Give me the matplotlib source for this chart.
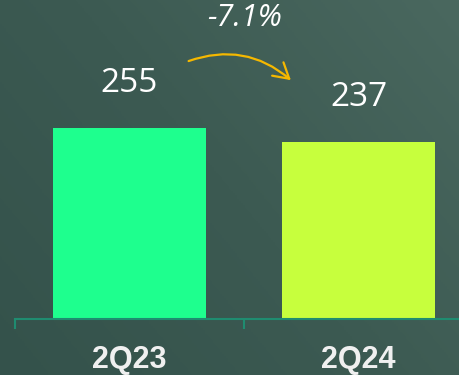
import numpy as np
import matplotlib
matplotlib.use("Agg")
import matplotlib.pyplot as plt
from matplotlib.colors import LinearSegmentedColormap

categories = ["2Q23", "2Q24"]
values = [255, 237]
bar_colors = ["#1eff8e", "#c7ff3d"]
change_label = "-7.1%"

W, H, DPI = 459, 375, 100
fig = plt.figure(figsize=(W / DPI, H / DPI), dpi=DPI)

# dark green backdrop, slightly lighter towards the upper right
bg = fig.add_axes([0, 0, 1, 1], zorder=-10)
yy, xx = np.mgrid[0:1:200j, 0:1:240j]
grad = 0.6 * xx + 0.4 * yy
cmap = LinearSegmentedColormap.from_list("bg", ["#34524b", "#3c5a52", "#4a685f"])
bg.imshow(grad, cmap=cmap, origin="lower", extent=[0, 1, 0, 1], aspect="auto")
bg.set_axis_off()

# plot area: left edge of the axis line and its baseline in pixels
left_px, base_px = 15, 319
ax = fig.add_axes([left_px / W, (H - base_px) / H, 458 / W, base_px / H])
ax.patch.set_alpha(0)
x = np.arange(len(categories))
ax.bar(x, values, width=0.67, color=bar_colors, zorder=2)
ax.set_xlim(-0.5, 1.5)
ax.set_ylim(0, 426)

for xi, v in zip(x, values):
    ax.annotate(f"{v}", (xi, v), xytext=(0, 20), textcoords="offset points",
                ha="center", va="bottom", fontsize=24, color="white",
                family="Open Sans")

for s in ["top", "right", "left"]:
    ax.spines[s].set_visible(False)
ax.spines["bottom"].set_color("#1f8c70")
ax.spines["bottom"].set_linewidth(1.5)
ax.set_yticks([])
ax.set_xticks(x)
ax.set_xticklabels(categories, fontsize=22, fontweight="bold", color="#f0f0f0",
                   family="Liberation Sans")
ax.tick_params(axis="x", which="major", length=0, pad=19)
ax.set_xticks([-0.5, 0.5, 1.5], minor=True)
ax.tick_params(axis="x", which="minor", length=7.5, width=1.5, color="#1f8c70")

# change annotation with curved arrow
fig.text(245 / W, 1 - 18 / H, change_label, ha="center", va="center",
         fontsize=22, style="italic", color="white", family="Open Sans")
fig.add_artist(matplotlib.patches.FancyArrowPatch(
    (186 / W, 1 - 62 / H), (293 / W, 1 - 82 / H), transform=fig.transFigure,
    connectionstyle="arc3,rad=-0.3", arrowstyle="->,head_length=0.6,head_width=0.35",
    color="#f5b800", lw=1.6, mutation_scale=18, capstyle="round",
    joinstyle="round"))

fig.savefig("out.png", dpi=DPI)
